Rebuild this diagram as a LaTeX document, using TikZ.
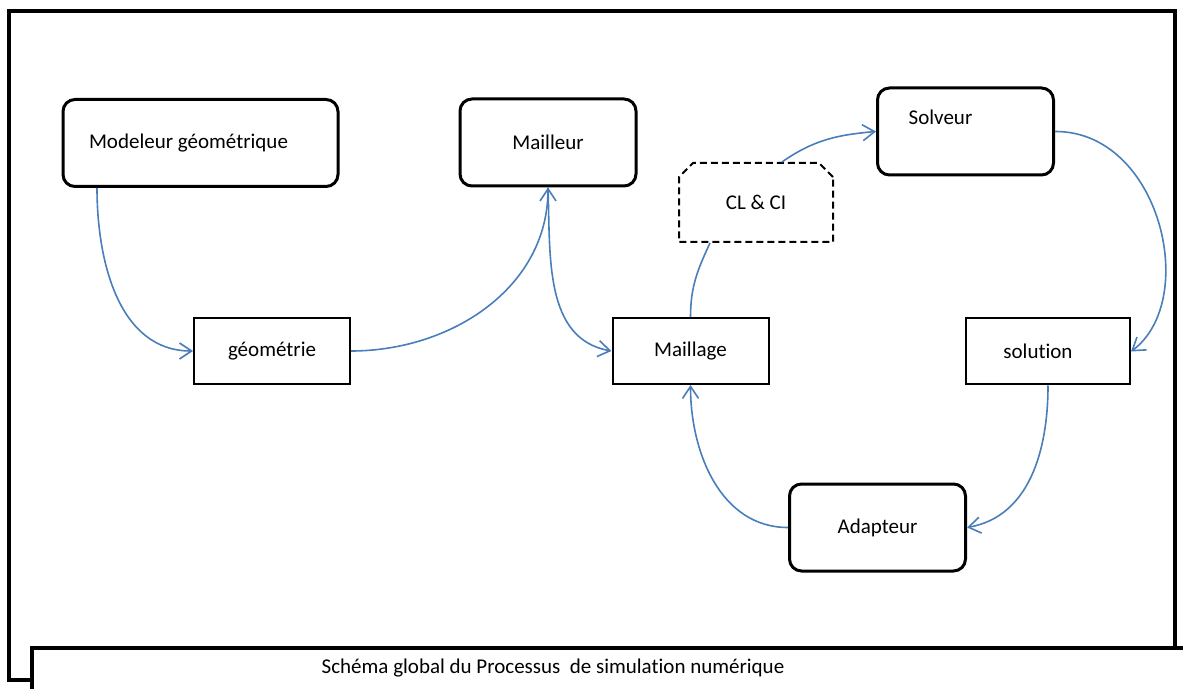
\documentclass[tikz,border=0pt]{standalone}
\usepackage{fontspec}
\setmainfont[Ligatures=NoCommon]{Carlito}
\usepackage{tikz}
\usetikzlibrary{arrows.meta, shapes.misc}
\usepackage{xcolor}
\definecolor{linkblue}{RGB}{74,126,187}
\tikzset{
  procbox/.style={rectangle, rounded corners=6pt, draw=black, line width=1.5pt,
                  fill=white, minimum width=88pt, minimum height=43.5pt,
                  font=\fontsize{10.5}{12}\selectfont},
  databox/.style={rectangle, draw=black, line width=1pt, fill=white,
                  minimum width=78pt, minimum height=33pt,
                  font=\fontsize{10.5}{12}\selectfont},
  condbox/.style={chamfered rectangle, chamfered rectangle corners={north west, north east},
                  chamfered rectangle xsep=3.5pt, chamfered rectangle ysep=3.5pt,
                  draw=black, line width=1pt, dash pattern=on 3.5pt off 2pt,
                  minimum width=77pt, minimum height=39.5pt,
                  font=\fontsize{10.5}{12}\selectfont},
  link/.style={-{Straight Barb[length=6pt, width=8pt]}, line width=0.8pt, color=linkblue},
  frame/.style={line width=1.7pt, line join=miter},
}
\begin{document}
\begin{tikzpicture}[x=0.5pt, y=-0.5pt]
    \useasboundingbox (0,0) rectangle (1183,689);
    % frame and caption band
    \draw[frame] (32,680) -- (9,680) -- (9,11) -- (1175,11) -- (1175,648);
    \draw[frame] (1183,648) -- (32,648) -- (32,689);
    \node[font=\fontsize{10.5}{12}\selectfont] (caption) at (553,668)
      {Schéma global du Processus\ \ de simulation numérique};

    % process boxes
    \node[procbox, minimum width=137.5pt] (mod) at (200.5,143) {Modeleur géométrique\hspace*{12pt}};
    \node[procbox] (mlr) at (548,142.5) {Mailleur};
    \node[procbox, text depth=14pt] (solv) at (965.5,131.5) {Solveur\hspace*{25pt}};
    \node[procbox] (adapt) at (877.5,527.5) {Adapteur};

    % data boxes
    \node[databox] (geo) at (272,351) {géométrie};
    \node[databox] (mesh) at (690.5,351) {Maillage};
    \node[databox, minimum width=82pt] (sol) at (1048,351.5) {solution\hspace*{10pt}};
    \node[condbox] (clci) at (756,202.5) {CL \& CI};

    % links
    \draw[link] ([xshift=-51.75pt]mod.south) to[out=-90, in=180] (geo.west);
    \draw[link] (geo.east) to[out=0, in=-90] (mlr.south);
    \draw[link] (mlr.south) to[out=-88, in=170] (mesh.west);
    \draw[link, -] (mesh.north) to[out=90, in=-115] ([xshift=-23pt]clci.south);
    \draw[link] ([xshift=13pt]clci.north) to[out=35, in=185] (solv.west);
    \draw[link] (solv.east) .. controls (1160,131) and (1200,300) .. (sol.east);
    \draw[link] (sol.south) to[out=-90, in=10] (adapt.east);
    \draw[link] (adapt.west) to[out=180, in=-90] (mesh.south);
\end{tikzpicture}
\end{document}
